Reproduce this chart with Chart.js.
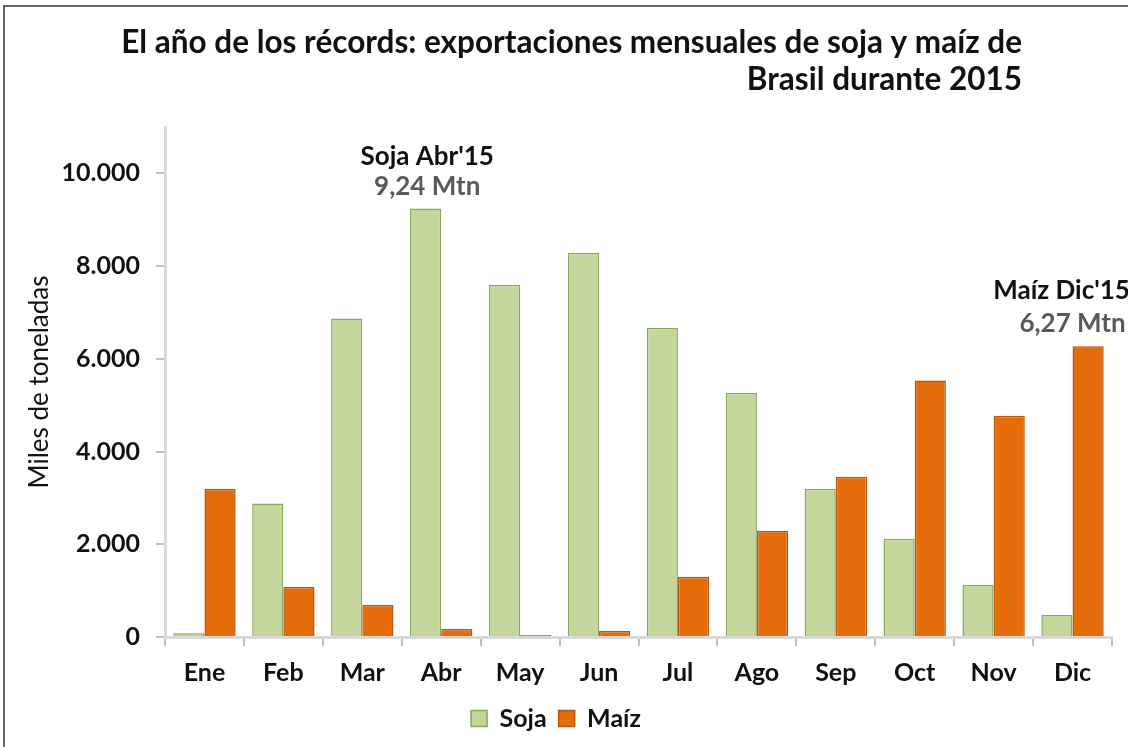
<!DOCTYPE html>
<html>
<head>
<meta charset="utf-8">
<script src="https://cdn.jsdelivr.net/npm/chart.js@4.4.0/dist/chart.umd.min.js"></script>
<style>
    body { margin: 0; background: #fff; }
    #wrap { width: 1128px; height: 747px; }
</style>
</head>
<body>
<div id="wrap"><canvas id="chart" width="1128" height="747"></canvas></div>
<script>
var months = ['Ene', 'Feb', 'Mar', 'Abr', 'May', 'Jun', 'Jul', 'Ago', 'Sep', 'Oct', 'Nov', 'Dic'];
var soja = [80, 2880, 6870, 9240, 7600, 8290, 6670, 5270, 3200, 2120, 1120, 475];
var maiz = [3200, 1080, 690, 175, 45, 130, 1300, 2290, 3455, 5530, 4770, 6270];
var yTicks = [0, 2000, 4000, 6000, 8000, 10000];
var titleLines = ['El año de los récords: exportaciones mensuales de soja y maíz de', 'Brasil durante 2015'];

var font = 'Lato, "Open Sans", sans-serif';

function fmt(v) {
    return String(v).replace(/\B(?=(\d{3})+(?!\d))/g, '.');
}

// title, frame and the two call-outs
var extras = {
    id: 'extras',
    afterDraw: function (chart) {
        var ctx = chart.ctx;
        var x = chart.scales.x, y = chart.scales.y;
        ctx.save();

        ctx.fillStyle = '#666';
        ctx.fillRect(3, 5, 2, 747);
        ctx.fillRect(3, 5, 1128, 2);

        ctx.fillStyle = '#111';
        ctx.textAlign = 'right';
        ctx.textBaseline = 'middle';
        ctx.font = 'bold 31.5px ' + font;
        ctx.fillText(titleLines[0], 1022, 43);
        ctx.fillText(titleLines[1], 1022, 80);

        ctx.textAlign = 'center';
        ctx.font = 'bold 26px ' + font;
        var ax = x.getPixelForValue(3) - 14;
        var ay = y.getPixelForValue(soja[3]);
        ctx.fillStyle = '#111';
        ctx.fillText("Soja Abr'15", ax, ay - 52);
        ctx.fillStyle = '#595959';
        ctx.fillText('9,24 Mtn', ax, ay - 22);

        var bx = x.getPixelForValue(11);
        var by = y.getPixelForValue(maiz[11]);
        ctx.fillStyle = '#111';
        ctx.fillText("Maíz Dic'15", bx - 11, by - 56);
        ctx.fillStyle = '#595959';
        ctx.fillText('6,27 Mtn', bx, by - 23);
        ctx.restore();
    }
};

new Chart(document.getElementById('chart'), {
    type: 'bar',
    data: {
        labels: months,
        datasets: [{
            label: 'Soja',
            data: soja,
            backgroundColor: '#c3d69b',
            borderColor: '#8ba85a',
            borderWidth: 1.5,
            categoryPercentage: 0.79,
            barPercentage: 1.0
        }, {
            label: 'Maíz',
            data: maiz,
            backgroundColor: '#e46c0a',
            borderColor: '#b9560a',
            borderWidth: 1.5,
            categoryPercentage: 0.79,
            barPercentage: 1.0
        }]
    },
    options: {
        responsive: false,
        animation: false,
        layout: { padding: { left: 0, right: 16, top: 127, bottom: 6 } },
        plugins: {
            legend: {
                position: 'bottom',
                labels: {
                    boxWidth: 16,
                    boxHeight: 16,
                    padding: 12,
                    color: '#111',
                    font: { family: font, size: 25, weight: 'bold' }
                }
            },
            tooltip: { enabled: false }
        },
        scales: {
            x: {
                grid: { display: true, drawOnChartArea: false, tickLength: 9, color: '#bfbfbf', lineWidth: 2 },
                border: { color: '#d9d9d9', width: 3 },
                ticks: { color: '#111', padding: 12, font: { family: font, size: 25, weight: 'bold' } },
                afterFit: function (scale) { scale.height = 57; }
            },
            y: {
                min: 0,
                max: 11000,
                afterBuildTicks: function (scale) {
                    scale.ticks = yTicks.map(function (v) { return { value: v }; });
                },
                grid: { display: true, drawOnChartArea: false, tickLength: 9, color: '#bfbfbf', lineWidth: 2 },
                border: { color: '#d9d9d9', width: 3 },
                ticks: {
                    color: '#111',
                    padding: 16,
                    font: { family: font, size: 25, weight: 'bold' },
                    callback: function (v) { return fmt(v); }
                },
                title: {
                    display: true,
                    text: 'Miles de toneladas',
                    color: '#111',
                    padding: { top: 24, bottom: 0 },
                    font: { family: font, size: 26 }
                },
                afterFit: function (scale) { scale.width = 165; }
            }
        }
    },
    plugins: [extras]
});
</script>
</body>
</html>
